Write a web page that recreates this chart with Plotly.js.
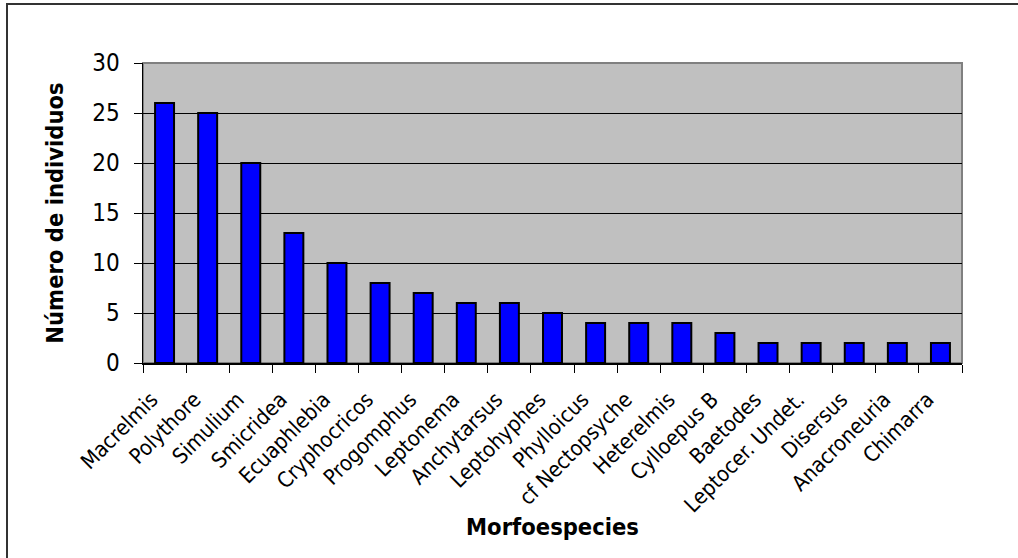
<!DOCTYPE html>
<html><head><meta charset="utf-8">
<script src="https://cdn.plot.ly/plotly-3.0.1.min.js"></script>
<style>html,body{margin:0;padding:0;background:#fff;}#chart{width:1018px;height:558px;position:relative;}
#frame{position:absolute;left:6px;top:3px;width:1100px;height:700px;border-left:2px solid #333;border-top:2px solid #333;pointer-events:none;}
#wrap{position:relative;width:1018px;height:558px;overflow:hidden;}</style>
</head><body>
<div id="wrap"><div id="chart"></div><div id="frame"></div></div>
<script>
const categories = ["Macrelmis","Polythore","Simulium","Smicridea","Ecuaphlebia","Cryphocricos","Progomphus","Leptonema","Anchytarsus","Leptohyphes","Phylloicus","cf Nectopsyche","Heterelmis","Cylloepus B","Baetodes","Leptocer. Undet.","Disersus","Anacroneuria","Chimarra"];
const values = [26,25,20,13,10,8,7,6,6,5,4,4,4,3,2,2,2,2,2];
const yTicks = [0,5,10,15,20,25,30];
const fontFam = "DejaVu Sans Condensed, Liberation Sans, sans-serif";
Plotly.newPlot('chart', [{
  type: 'bar', x: categories, y: values,
  marker: {color: '#0000FF', line: {color: '#000000', width: 2}},
  hoverinfo: 'none'
}], {
  width: 1018, height: 558,
  margin: {l: 143, r: 56, t: 63, b: 195},
  paper_bgcolor: '#FFFFFF', plot_bgcolor: '#C0C0C0',
  bargap: 0.56,
  showlegend: false,
  font: {family: fontFam, color: '#000'},
  xaxis: {
    type: 'category', tickangle: -45, tickson: 'boundaries',
    ticks: 'outside', ticklen: 8, tickcolor: '#000', tickwidth: 1,
    showline: true, linecolor: '#000', linewidth: 1.5, mirror: false,
    showgrid: false,
    tickfont: {size: 21.5, family: fontFam},
    ticklabelshift: -13, ticklabelstandoff: 14,
    title: {text: 'Morfoespecies', font: {size: 23.5, family: fontFam, weight: 'bold'}, standoff: 2},
    automargin: false
  },
  yaxis: {
    range: [0, 30], tickvals: yTicks, ticktext: yTicks.map(String),
    ticks: 'outside', ticklen: 8, tickcolor: '#000', tickwidth: 1,
    showline: true, linecolor: '#000', linewidth: 1.5,
    showgrid: true, gridcolor: '#000', gridwidth: 1,
    zeroline: false,
    tickfont: {size: 24, family: fontFam},
    ticklabelstandoff: 9,
    title: {text: 'Número de individuos', font: {size: 23.5, family: fontFam, weight: 'bold'}, standoff: 22},
    automargin: false
  },
  shapes: [{type: 'rect', xref: 'paper', yref: 'paper', x0: 0, x1: 1, y0: 0, y1: 1,
    line: {color: '#808080', width: 2}, layer: 'below'}]
}, {staticPlot: true});
</script>
</body></html>
